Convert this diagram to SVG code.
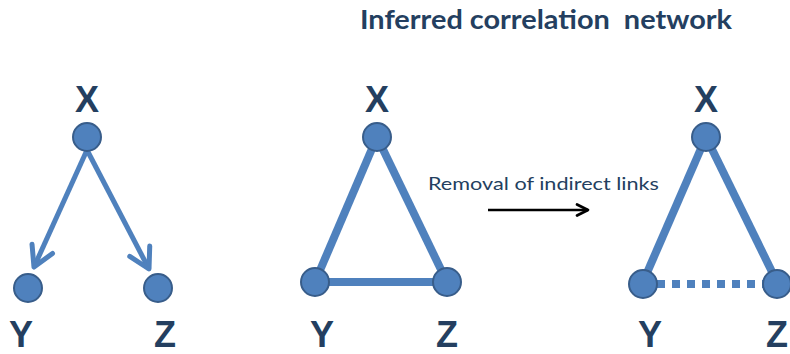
<svg xmlns="http://www.w3.org/2000/svg" width="790" height="354" viewBox="0 0 790 354">
<style>
.node{fill:#4F81BD;stroke:#385D8A;stroke-width:2}
.lbl{font-family:"Liberation Sans",Arial,sans-serif;font-weight:bold;font-size:36px;fill:#243F60;text-anchor:middle}
.edge{stroke:#4F81BD;stroke-width:8;fill:none}
.arr{stroke:#4F81BD;stroke-width:5;fill:none}
</style>
<defs>
<marker id="chev" viewBox="0 0 10 10" refX="9" refY="5" markerWidth="5" markerHeight="5" orient="auto" markerUnits="strokeWidth" overflow="visible">
<path d="M1,0.5 L9,5 L1,9.5" fill="none" stroke="#4F81BD" stroke-width="2" stroke-linecap="round" stroke-linejoin="round"/>
</marker>
<marker id="blk" viewBox="0 0 10 10" refX="9" refY="5" markerWidth="5.5" markerHeight="5.5" orient="auto" markerUnits="strokeWidth" overflow="visible">
<path d="M1,1 L9,5 L1,9" fill="none" stroke="#000" stroke-width="2" stroke-linecap="round" stroke-linejoin="round"/>
</marker>
</defs>
<text x="546" y="29" font-family="Lato,'Open Sans','Liberation Sans',sans-serif" font-weight="bold" font-size="27" fill="#243F60" text-anchor="middle" textLength="372" lengthAdjust="spacingAndGlyphs" xml:space="preserve">Inferred correlation  network</text>
<g id="connectors">
<line class="arr" x1="87" y1="150" x2="34" y2="267" marker-end="url(#chev)"/>
<line class="arr" x1="87" y1="150" x2="149" y2="269" marker-end="url(#chev)"/>
<line class="edge" x1="377" y1="137" x2="315" y2="282"/>
<line class="edge" x1="377" y1="137" x2="447" y2="282"/>
<line class="edge" x1="315" y1="282" x2="447" y2="282"/>
<line class="edge" x1="706" y1="137" x2="643" y2="282"/>
<line class="edge" x1="706" y1="137" x2="777" y2="282"/>
<line class="edge" x1="657" y1="284" x2="763" y2="284" stroke-dasharray="8,7"/>
<line x1="488" y1="210" x2="588" y2="210" stroke="#000" stroke-width="2.5" marker-end="url(#blk)"/>
</g>
<text x="428" y="190" font-family="Lato,'Open Sans','Liberation Sans',sans-serif" font-size="18" fill="#243F60" textLength="231" lengthAdjust="spacingAndGlyphs">Removal of indirect links</text>
<g id="X1"><circle class="node" cx="87" cy="137" r="14"/><text class="lbl" x="87" y="112">X</text></g>
<g id="Y1"><circle class="node" cx="28" cy="288" r="14"/><text class="lbl" x="21" y="347">Y</text></g>
<g id="Z1"><circle class="node" cx="158" cy="288" r="14"/><text class="lbl" x="165" y="347">Z</text></g>
<g id="X2"><circle class="node" cx="377" cy="137" r="14"/><text class="lbl" x="377" y="112">X</text></g>
<g id="Y2"><circle class="node" cx="315" cy="282" r="14"/><text class="lbl" x="322" y="347">Y</text></g>
<g id="Z2"><circle class="node" cx="447" cy="282" r="14"/><text class="lbl" x="447" y="347">Z</text></g>
<g id="X3"><circle class="node" cx="706" cy="137" r="14"/><text class="lbl" x="706" y="112">X</text></g>
<g id="Y3"><circle class="node" cx="643" cy="284" r="14"/><text class="lbl" x="650" y="347">Y</text></g>
<g id="Z3"><circle class="node" cx="777" cy="284" r="14"/><text class="lbl" x="777" y="347">Z</text></g>
</svg>
